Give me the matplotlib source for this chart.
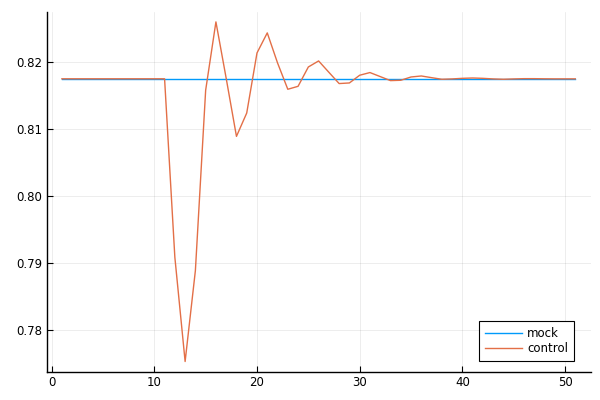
import matplotlib
matplotlib.use("Agg")
import matplotlib.pyplot as plt
import numpy as np

x = list(range(1, 52))
mock = [0.81743] * 51
control = [0.81743] * 11 + [
    0.79084, 0.77530, 0.78885, 0.81572, 0.82591, 0.81750, 0.80885, 0.81233,
    0.82128, 0.82427, 0.81980, 0.81587, 0.81631, 0.81919, 0.82009, 0.81840,
    0.81672, 0.81681, 0.81796, 0.81836, 0.81776, 0.81716, 0.81721, 0.81770,
    0.81785, 0.81760, 0.81736, 0.81741, 0.81750, 0.81755, 0.81750, 0.81741,
    0.81736, 0.81741, 0.81745, 0.81745, 0.81743, 0.81742, 0.81742, 0.81742,
]
labels = ["mock", "control"]
xticks = [0, 10, 20, 30, 40, 50]
yticks = [0.78, 0.79, 0.80, 0.81, 0.82]

L, R, T, B = 46.5, 590.7, 11.7, 371.7
fig = plt.figure(figsize=(6, 4), dpi=100)
ax = fig.add_axes([L/600, 1 - B/400, (R-L)/600, (B-T)/400])
ax.plot(x, mock, color="#009AFA", lw=1.0, label=labels[0])
ax.plot(x, control, color="#E36F47", lw=1.0, label=labels[1])

lo, hi = min(min(mock), min(control)), max(max(mock), max(control))
pad = 0.03 * (hi - lo)
ax.set_ylim(lo - pad, hi + pad)
ax.set_xlim(1 - 0.03 * 50, 51 + 0.03 * 50)
ax.set_xticks(xticks)
ax.set_yticks(yticks)
ax.set_yticklabels([f"{v:.2f}" for v in yticks])
ax.grid(True, color="black", alpha=0.1, lw=0.5)
for s in ["top", "right"]:
    ax.spines[s].set_visible(False)
for s in ["left", "bottom"]:
    ax.spines[s].set_linewidth(1.0)
ax.tick_params(direction="in", length=4, width=0.8, labelsize=8.5, pad=3)
leg = ax.legend(loc="lower right", fontsize=8.5, fancybox=False, framealpha=1,
                edgecolor="black", handlelength=3.2, handletextpad=0.4,
                bbox_to_anchor=((574 - L) / (R - L), (B - 361) / (B - T)),
                borderaxespad=0, borderpad=0.5, labelspacing=0.15)
leg.get_frame().set_linewidth(0.8)
fig.savefig("out.png", dpi=100)
